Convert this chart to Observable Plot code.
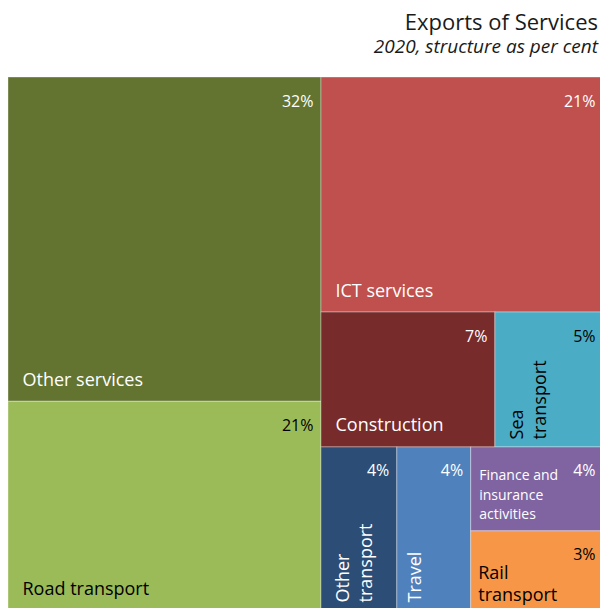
<!DOCTYPE html>
<html>
<head>
<meta charset="utf-8">
<script src="https://cdn.jsdelivr.net/npm/d3@7"></script>
<script src="https://cdn.jsdelivr.net/npm/@observablehq/plot@0.6"></script>
<style>
  html, body { margin: 0; padding: 0; background: #fff; overflow: hidden; }
  body { width: 600px; font-family: "Open Sans", sans-serif; }
  #head { height: 70px; box-sizing: border-box; padding-top: 8px; padding-right: 2px; text-align: right; color: #1a1a1a; }
  #title { font-size: 22px; line-height: 26px; }
  #subtitle { font-size: 19px; line-height: 24px; font-style: italic; }
  #chart svg { display: block; }
</style>
</head>
<body>
<div id="head">
  <div id="title">Exports of Services</div>
  <div id="subtitle">2020, structure as per cent</div>
</div>
<div id="chart"></div>
<script>
// Categories and their shares of exports of services (per cent, 2020)
const categories = [
  "Other services",
  "Road transport",
  "ICT services",
  "Construction",
  "Sea transport",
  "Other transport",
  "Travel",
  "Finance and insurance activities",
  "Rail transport"
];
const shares = [32.0, 20.6, 20.9, 7.4, 4.6, 3.9, 3.8, 3.5, 3.3];
const labels = [
  "Other services",
  "Road transport",
  "ICT services",
  "Construction",
  "Sea\ntransport",
  "Other\ntransport",
  "Travel",
  "Finance and\ninsurance\nactivities",
  "Rail\ntransport"
];
// Nesting of the tiles (groups of categories)
const groups = [
  ["Other services", "Road transport"],
  ["ICT services",
    ["Construction", "Sea transport"],
    ["Other transport", "Travel", ["Finance and insurance activities", "Rail transport"]]]
];
const palette = ["#627430", "#9bbb59", "#c0504d", "#772b2b", "#4bacc6", "#2c4d75", "#4f81bd", "#8064a2", "#f79646"];
const darkText = ["Road transport", "Sea transport", "Rail transport"];
const rotated = ["Sea transport", "Other transport"];
const rotatedSingle = ["Travel"];
const narrow = ["Rail transport"];
const smallText = ["Finance and insurance activities"];

function build(node) {
  if (typeof node === "string") {
    const i = categories.indexOf(node);
    return {name: node, value: shares[i], label: labels[i], color: palette[i]};
  }
  return {children: node.map(build)};
}
const root = d3.hierarchy({children: groups.map(build)})
  .sum(d => d.value || 0);
d3.treemap().tile(d3.treemapSliceDice).size([1, 1]).round(false)(root);
const leaves = root.leaves().map(l => ({
  name: l.data.name, label: l.data.label, value: l.data.value, color: l.data.color,
  x0: l.x0, x1: l.x1, y0: l.y0, y1: l.y1,
  ink: darkText.includes(l.data.name) ? "#000000" : "#ffffff"
}));

const special = [...rotated, ...rotatedSingle, ...narrow, ...smallText];
const horiz = leaves.filter(d => !special.includes(d.name));
const pick = list => leaves.filter(d => list.includes(d.name));

const chart = Plot.plot({
  width: 600,
  height: 545,
  margin: 0,
  x: {domain: [0, 1], range: [8, 603], axis: null},
  y: {domain: [0, 1], range: [7, 540], axis: null},
  style: {fontFamily: "'Open Sans', sans-serif", background: "transparent"},
  marks: [
    Plot.rect(leaves, {x1: "x0", x2: "x1", y1: "y0", y2: "y1", fill: "color",
      stroke: "#ffffff", strokeOpacity: 0.35, strokeWidth: 1}),
    Plot.text(leaves, {x: "x1", y: "y0", text: d => Math.round(d.value) + "%",
      textAnchor: "end", lineAnchor: "bottom", dx: -8, dy: 29, fill: "ink", fontSize: 16}),
    Plot.text(horiz, {x: "x0", y: "y1", text: "label", textAnchor: "start", lineAnchor: "bottom",
      dx: 14, dy: -16, fill: "ink", fontSize: 18, lineHeight: 1.2}),
    Plot.text(pick(narrow), {x: "x0", y: "y1", text: "label", textAnchor: "start", lineAnchor: "bottom",
      dx: 7, dy: -10, fill: "ink", fontSize: 18, lineHeight: 1.2}),
    Plot.text(pick(smallText), {x: "x0", y: "y1", text: "label", textAnchor: "start", lineAnchor: "bottom",
      dx: 8, dy: -12, fill: "ink", fontSize: 14, lineHeight: 1.4}),
    Plot.text(pick(rotated), {x: "x0", y: "y1", text: "label", rotate: -90, textAnchor: "start", lineAnchor: "top",
      dx: 11, dy: -8, fill: "ink", fontSize: 18, lineHeight: 1.3}),
    Plot.text(pick(rotatedSingle), {x: "x0", y: "y1", text: "label", rotate: -90, textAnchor: "start", lineAnchor: "top",
      dx: 7, dy: -8, fill: "ink", fontSize: 18, lineHeight: 1.3})
  ]
});
document.getElementById("chart").append(chart);
</script>
</body>
</html>
